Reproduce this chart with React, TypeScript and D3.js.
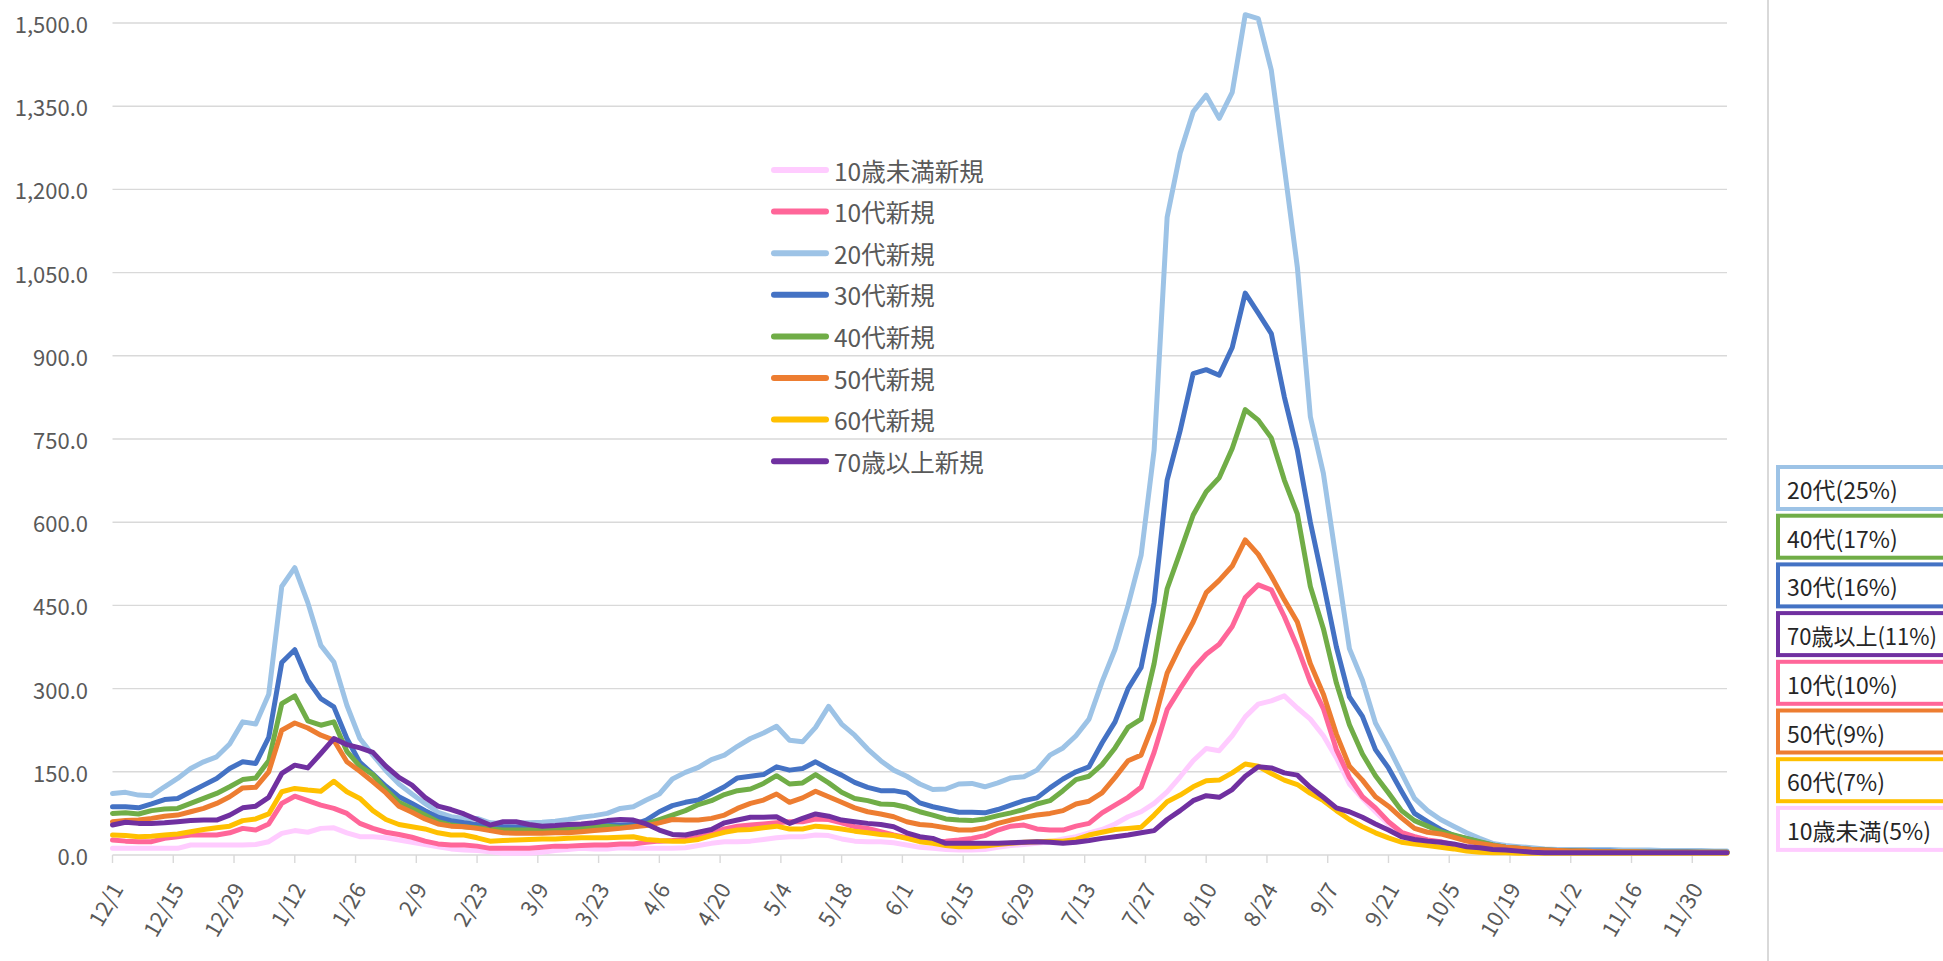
import React, { useEffect, useRef } from 'react';
import * as d3 from 'd3';

// daily 7-day averages, sampled every 3 days from 12/1
const DAY_STEP = 3;

const tickLabels = ['12/1', '12/15', '12/29', '1/12', '1/26', '2/9', '2/23', '3/9', '3/23', '4/6', '4/20', '5/4', '5/18',
  '6/1', '6/15', '6/29', '7/13', '7/27', '8/10', '8/24', '9/7', '9/21', '10/5', '10/19', '11/2', '11/16', '11/30'];

const under10 = [
  12, 12, 12, 12, 12, 12, 18, 18, 18, 18,
  18, 19, 24, 39, 44, 41, 48, 49, 40, 33,
  33, 31, 27, 23, 19, 15, 11, 9, 8, 6,
  3, 3, 3, 5, 8, 10, 12, 11, 11, 13,
  12, 12, 12, 12, 13, 17, 21, 24, 24, 25,
  28, 31, 33, 33, 36, 35, 29, 25, 24, 24,
  22, 18, 14, 12, 10, 9, 9, 10, 14, 17,
  19, 21, 24, 29, 33, 40, 46, 56, 69, 78,
  93, 114, 141, 170, 192, 188, 215, 249, 272, 278,
  287, 265, 245, 215, 175, 128, 102, 78, 55, 39,
  33, 27, 22, 18, 15, 13, 11, 10, 9, 8,
  7, 7, 6, 6, 6, 6, 6, 6, 5, 5,
  5, 5, 5, 5, 5];

const teens = [
  27, 25, 24, 24, 30, 33, 36, 36, 36, 40,
  48, 45, 56, 93, 106, 98, 90, 84, 75, 57,
  48, 41, 37, 32, 25, 20, 18, 18, 16, 12,
  12, 12, 12, 14, 16, 16, 17, 18, 18, 20,
  20, 23, 25, 26, 28, 32, 38, 47, 52, 54,
  56, 58, 60, 60, 65, 64, 58, 51, 48, 42,
  36, 31, 26, 24, 25, 27, 30, 35, 45, 52,
  54, 47, 45, 45, 52, 57, 76, 90, 104, 122,
  185, 262, 300, 336, 362, 380, 412, 464, 487, 478,
  430, 375, 312, 264, 190, 140, 105, 85, 60, 41,
  33, 27, 24, 18, 15, 13, 11, 10, 9, 8,
  7, 7, 6, 6, 6, 6, 6, 5, 5, 5,
  5, 5, 5, 5, 5];

const twenties = [
  111, 113, 108, 107, 123, 138, 156, 168, 177, 200,
  240, 236, 290, 484, 518, 455, 378, 348, 270, 210,
  180, 152, 128, 110, 93, 77, 69, 66, 66, 58,
  57, 58, 58, 59, 61, 64, 68, 71, 75, 84,
  87, 99, 110, 137, 149, 158, 172, 180, 196, 210,
  220, 232, 207, 204, 230, 268, 236, 216, 191, 170,
  153, 142, 128, 118, 119, 128, 129, 123, 130, 139,
  141, 153, 180, 193, 215, 245, 312, 371, 450, 540,
  730, 1150, 1265, 1340, 1370, 1328, 1375, 1515, 1508, 1415,
  1240, 1060, 790, 688, 530, 372, 315, 238, 195, 148,
  102, 80, 64, 52, 40, 30, 21, 17, 15, 13,
  11, 10, 10, 10, 10, 10, 9, 9, 9, 8,
  8, 8, 8, 7, 7];

const thirties = [
  87, 87, 85, 92, 100, 102, 114, 126, 138, 156,
  168, 165, 212, 347, 370, 315, 282, 267, 210, 167,
  146, 124, 105, 93, 80, 68, 62, 58, 55, 53,
  51, 50, 50, 50, 51, 52, 54, 56, 55, 54,
  55, 63, 78, 89, 95, 99, 111, 123, 139, 142,
  145, 159, 153, 156, 168, 155, 144, 131, 122, 116,
  116, 112, 94, 87, 82, 77, 77, 76, 82, 90,
  98, 103, 121, 137, 150, 159, 202, 240, 300, 338,
  455, 676, 765, 868, 875, 865, 915, 1013, 977, 940,
  826, 730, 600, 490, 375, 285, 250, 190, 157, 115,
  75, 60, 46, 35, 30, 23, 18, 14, 12, 10,
  9, 8, 8, 7, 7, 7, 6, 6, 6, 6,
  6, 6, 5, 5, 5];

const forties = [
  75, 76, 74, 80, 83, 84, 93, 102, 111, 123,
  136, 139, 170, 273, 287, 242, 234, 240, 187, 160,
  145, 118, 95, 84, 72, 60, 54, 51, 49, 47,
  45, 45, 45, 45, 46, 46, 48, 50, 52, 50,
  51, 56, 64, 72, 80, 91, 98, 109, 116, 119,
  129, 143, 128, 130, 145, 130, 113, 102, 98, 92,
  91, 86, 78, 72, 65, 63, 62, 65, 71, 76,
  82, 92, 98, 116, 136, 142, 163, 193, 230, 245,
  345, 480, 546, 613, 655, 680, 733, 803, 784, 752,
  676, 615, 484, 408, 310, 235, 182, 143, 112, 80,
  62, 52, 42, 36, 30, 24, 18, 14, 12, 10,
  9, 8, 7, 7, 6, 6, 6, 6, 5, 5,
  5, 5, 5, 5, 5];

const fifties = [
  60, 62, 63, 66, 70, 72, 78, 84, 93, 105,
  121, 122, 150, 225, 238, 229, 216, 207, 168, 151,
  132, 112, 88, 77, 65, 56, 52, 51, 48, 44,
  40, 39, 39, 39, 40, 40, 42, 44, 46, 48,
  51, 53, 58, 64, 63, 63, 66, 72, 84, 93,
  99, 110, 95, 103, 115, 105, 95, 85, 78, 74,
  69, 60, 55, 53, 49, 45, 45, 49, 57, 63,
  68, 72, 75, 80, 92, 97, 112, 140, 170, 180,
  240, 328, 376, 420, 473, 495, 521, 568, 542, 503,
  460, 420, 345, 290, 218, 160, 135, 105, 88, 67,
  48, 41, 38, 32, 25, 21, 17, 14, 12, 10,
  9, 8, 7, 7, 6, 6, 6, 6, 5, 5,
  5, 5, 5, 5, 5];

const sixties = [
  36, 35, 33, 34, 36, 38, 42, 46, 49, 52,
  62, 65, 74, 114, 120, 117, 115, 133, 114, 102,
  80, 64, 55, 51, 47, 40, 36, 36, 31, 25,
  26, 27, 28, 29, 29, 30, 31, 31, 31, 32,
  33, 28, 26, 25, 25, 28, 35, 41, 45, 46,
  49, 52, 47, 47, 52, 50, 47, 43, 40, 37,
  35, 30, 24, 21, 17, 15, 15, 16, 19, 21,
  23, 24, 25, 25, 28, 36, 41, 46, 48, 50,
  72, 96, 108, 123, 134, 135, 148, 164, 160, 147,
  135, 127, 111, 98, 80, 64, 51, 40, 31, 23,
  20, 17, 14, 11, 7, 5, 4, 4, 3, 3,
  3, 3, 3, 3, 3, 3, 3, 3, 3, 3,
  3, 3, 3, 3, 3];

const over70 = [
  54, 59, 57, 57, 58, 60, 62, 63, 63, 72,
  85, 88, 104, 147, 162, 157, 183, 210, 199, 193,
  185, 160, 140, 126, 104, 88, 82, 74, 64, 54,
  60, 60, 55, 52, 53, 55, 56, 58, 62, 64,
  63, 56, 45, 37, 36, 41, 46, 58, 63, 68,
  68, 69, 57, 66, 74, 70, 63, 60, 57, 55,
  51, 40, 33, 30, 21, 21, 21, 21, 21, 22,
  23, 24, 23, 21, 23, 26, 30, 33, 36, 40,
  44, 64, 80, 98, 107, 104, 118, 142, 159, 157,
  148, 144, 122, 104, 85, 78, 68, 56, 45, 33,
  28, 25, 23, 20, 15, 13, 10, 9, 7, 5,
  4, 4, 4, 4, 4, 4, 4, 4, 4, 4,
  4, 4, 4, 4, 4];

const seriesNames = ['10歳未満新規', '10代新規', '20代新規', '30代新規', '40代新規', '50代新規', '60代新規', '70歳以上新規'];
const seriesColors = ['#FFCCFF', '#FF6699', '#9DC3E6', '#4472C4', '#70AD47', '#ED7D31', '#FFC000', '#7030A0'];
const seriesValues = [under10, teens, twenties, thirties, forties, fifties, sixties, over70];

const shareLabels = ['20代(25%)', '40代(17%)', '30代(16%)', '70歳以上(11%)', '10代(10%)', '50代(9%)', '60代(7%)', '10歳未満(5%)'];
const shareColors = ['#9DC3E6', '#70AD47', '#4472C4', '#7030A0', '#FF6699', '#ED7D31', '#FFC000', '#FFCCFF'];

const FONT = "'Noto Sans CJK JP', 'Noto Sans', sans-serif";
const SHARE_MAX_W = 150;

export default function App() {
  const shareRefs = useRef<(SVGTextElement | null)[]>([]);

  useEffect(() => {
    document.body.style.margin = '0';
    document.body.style.overflow = 'hidden';
    // squeeze the long box labels so they fit inside the visible part
    shareRefs.current.forEach(el => {
      if (!el) return;
      const w = el.getComputedTextLength();
      if (w > SHARE_MAX_W) {
        el.setAttribute('textLength', String(SHARE_MAX_W));
        el.setAttribute('lengthAdjust', 'spacingAndGlyphs');
      }
    });
  }, []);

  const x = d3.scaleLinear().domain([0, 372]).range([112.5, 1727]);
  const y = d3.scaleLinear().domain([0, 1500]).range([855, 23]);
  const yTicks = d3.range(0, 1501, 150);
  const fmt = d3.format(',.1f');

  const line = d3.line<number>()
    .x((_, i) => x(i * DAY_STEP))
    .y(v => y(v));

  return (
    <svg width={1943} height={961} style={{ position: 'absolute', left: 0, top: 0, background: '#fff' }} fontFamily={FONT}>
      {/* grid + y labels */}
      {yTicks.map(t => (
        <g key={t}>
          <line x1={112.5} x2={1727} y1={y(t)} y2={y(t)} stroke="#D9D9D9" strokeWidth={1.4} />
          <text x={88} y={y(t)} textAnchor="end" dominantBaseline="central" fontSize={22} fill="#595959">{fmt(t)}</text>
        </g>
      ))}

      {/* x ticks + labels */}
      {tickLabels.map((lab, i) => {
        const px = x(i * 14);
        return (
          <g key={lab}>
            <line x1={px} x2={px} y1={855} y2={863} stroke="#D9D9D9" strokeWidth={1.4} />
            <text transform={`translate(${px + 3},884) rotate(-60)`} textAnchor="end" dominantBaseline="central"
              fontSize={22} fill="#595959">{lab}</text>
          </g>
        );
      })}

      {/* series */}
      {seriesValues.map((vals, i) => (
        <path key={seriesNames[i]} d={line(vals) || ''} fill="none" stroke={seriesColors[i]} strokeWidth={5}
          strokeLinejoin="round" strokeLinecap="round" />
      ))}

      {/* legend */}
      {seriesNames.map((name, i) => {
        const ly = 170 + i * 41.6;
        return (
          <g key={name}>
            <line x1={774} x2={826} y1={ly} y2={ly} stroke={seriesColors[i]} strokeWidth={6} strokeLinecap="round" />
            <text x={834} y={ly} dominantBaseline="central" fontSize={24.5} fill="#595959">{name}</text>
          </g>
        );
      })}

      {/* separator */}
      <line x1={1768} x2={1768} y1={0} y2={961} stroke="#D9D9D9" strokeWidth={2} />

      {/* share boxes */}
      {shareLabels.map((lab, i) => {
        const top = 465 + i * 48.7;
        return (
          <g key={lab}>
            <rect x={1778} y={top + 2} width={200} height={42} fill="#fff" stroke={shareColors[i]} strokeWidth={4} />
            <text ref={el => { shareRefs.current[i] = el; }} x={1787} y={top + 24} dominantBaseline="central"
              fontSize={23} fill="#262626">{lab}</text>
          </g>
        );
      })}
    </svg>
  );
}
